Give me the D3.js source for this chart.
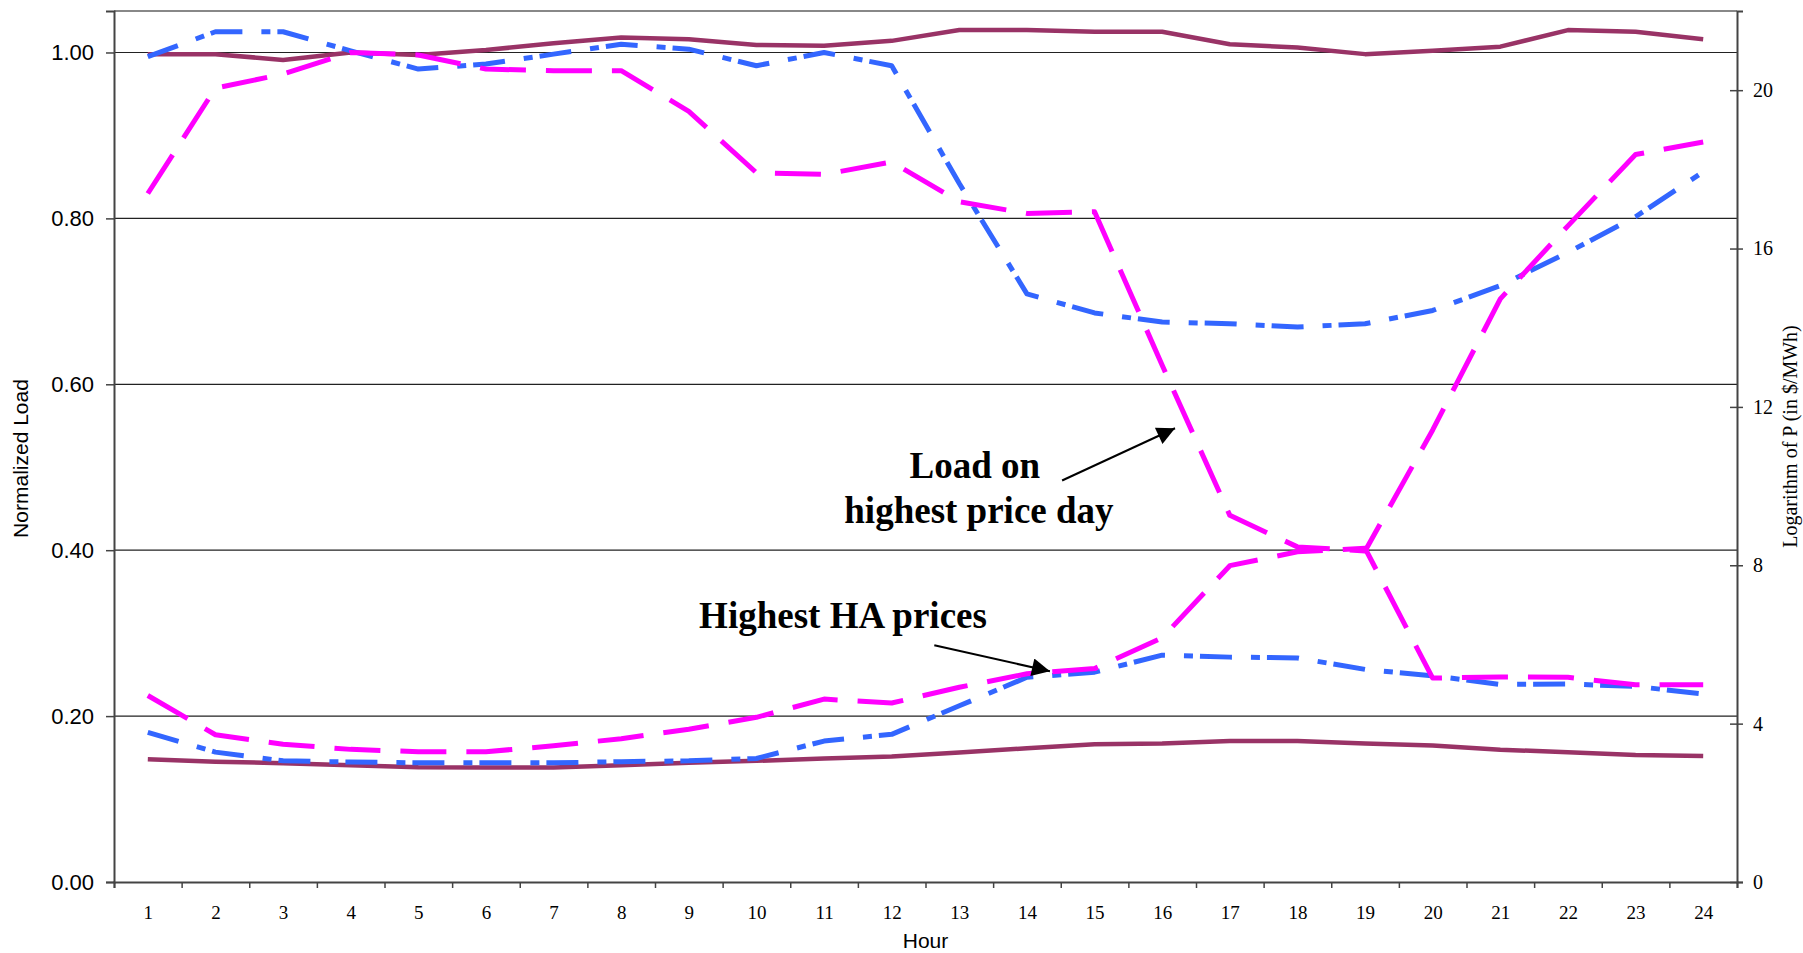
<!DOCTYPE html>
<html>
<head>
<meta charset="utf-8">
<script src="https://cdn.jsdelivr.net/npm/d3@7"></script>
<style>
  body { margin: 0; background: #fff; }
</style>
</head>
<body>
<div id="chart"></div>
<script>
// hours of the day
const hours = [1, 2, 3, 4, 5, 6, 7, 8, 9, 10, 11, 12, 13, 14, 15, 16, 17, 18, 19, 20, 21, 22, 23, 24]

// normalized load (left axis)
const loadSolid = [0.998, 0.998, 0.991, 1.000, 0.997, 1.003, 1.011, 1.018, 1.016, 1.009, 1.008, 1.014,
    1.027, 1.027, 1.025, 1.025, 1.010, 1.006, 0.998, 1.002, 1.007, 1.027, 1.025, 1.016]
const loadDashDot = [0.995, 1.025, 1.025, 1.002, 0.980, 0.986, 0.998, 1.010, 1.004, 0.984, 1.000, 0.984,
    0.842, 0.709, 0.686, 0.675, 0.673, 0.669, 0.673, 0.689, 0.719, 0.759, 0.802, 0.856]
const loadDashed = [0.830, 0.957, 0.974, 1.000, 0.997, 0.980, 0.978, 0.978, 0.929, 0.855, 0.853, 0.868,
    0.820, 0.806, 0.808, 0.623, 0.442, 0.404, 0.399, 0.545, 0.703, 0.791, 0.877, 0.892]

// logarithm of price (right axis)
const priceSolid = [3.10, 3.04, 3.00, 2.95, 2.90, 2.89, 2.89, 2.95, 3.01, 3.06, 3.12, 3.17,
    3.27, 3.38, 3.48, 3.50, 3.56, 3.56, 3.50, 3.45, 3.34, 3.28, 3.21, 3.18]
const priceDashDot = [3.78, 3.28, 3.06, 3.03, 3.01, 3.01, 3.01, 3.04, 3.06, 3.12, 3.56, 3.73,
    4.45, 5.17, 5.30, 5.73, 5.68, 5.66, 5.37, 5.21, 4.99, 5.00, 4.94, 4.75]
const priceDashed = [4.71, 3.72, 3.48, 3.35, 3.29, 3.29, 3.44, 3.62, 3.86, 4.16, 4.62, 4.52,
    4.92, 5.26, 5.39, 6.17, 7.99, 8.34, 8.43, 5.15, 5.18, 5.17, 4.98, 4.98]

const leftTicks = [0, 0.2, 0.4, 0.6, 0.8, 1.0]
const rightTicks = [0, 4, 8, 12, 16, 20]

const width = 1803
const height = 953
const margin = {top: 11, right: 66, bottom: 71, left: 114}

const svg = d3.select('#chart')
    .append('svg')
    .attr('width', width)
    .attr('height', height)
    .style('display', 'block')

const plotW = width - margin.left - margin.right
const plotH = height - margin.top - margin.bottom

const g = svg.append('g')
    .attr('transform', `translate(${margin.left},${margin.top})`)

const x = d3.scaleLinear().domain([0.5, 24.5]).range([0, plotW])
const yLeft = d3.scaleLinear().domain([0, 1.05]).range([plotH, 0])
const yRight = d3.scaleLinear().domain([0, 22]).range([plotH, 0])

// gridlines
g.selectAll('.grid')
    .data(leftTicks.filter(d => d > 0))
    .enter().append('line')
    .attr('class', 'grid')
    .attr('x1', 0)
    .attr('x2', plotW)
    .attr('y1', d => yLeft(d))
    .attr('y2', d => yLeft(d))
    .attr('stroke', '#222')
    .attr('stroke-width', 1.2)

// top border
g.append('line')
    .attr('x1', 0).attr('x2', plotW)
    .attr('y1', 0).attr('y2', 0)
    .attr('stroke', '#888')
    .attr('stroke-width', 2)

// left axis
const leftAxis = g.append('g')
    .call(d3.axisLeft(yLeft).tickValues(leftTicks).tickFormat(d3.format('.2f')).tickSize(8).tickPadding(12))
leftAxis.select('.domain').attr('stroke', '#444').attr('stroke-width', 2)
leftAxis.selectAll('.tick line').attr('stroke', '#444').attr('stroke-width', 1.5)
leftAxis.selectAll('.tick text')
    .attr('font-family', '"Liberation Sans", Arial, sans-serif')
    .attr('font-size', 22)
    .attr('fill', '#000')

// right axis
const rightAxis = g.append('g')
    .attr('transform', `translate(${plotW},0)`)
    .call(d3.axisRight(yRight).tickValues(rightTicks).tickSize(6).tickPadding(10))
rightAxis.select('.domain').attr('stroke', '#444').attr('stroke-width', 2)
rightAxis.selectAll('.tick line').attr('x1', -7).attr('stroke', '#444').attr('stroke-width', 1.5)
rightAxis.selectAll('.tick text')
    .attr('font-family', '"Liberation Serif", "Times New Roman", serif')
    .attr('font-size', 20)
    .attr('fill', '#000')

// bottom axis: ticks between hours, labels at hour centres
const tickPos = hours.map(h => h - 0.5).concat([hours[hours.length - 1] + 0.5])
const bottomTicks = g.append('g')
    .attr('transform', `translate(0,${plotH})`)
    .call(d3.axisBottom(x).tickValues(tickPos).tickFormat('').tickSize(6))
bottomTicks.select('.domain').attr('stroke', '#444').attr('stroke-width', 2)
bottomTicks.selectAll('.tick line').attr('stroke', '#444').attr('stroke-width', 1.5)

const bottomLabels = g.append('g')
    .attr('transform', `translate(0,${plotH})`)
    .call(d3.axisBottom(x).tickValues(hours).tickSize(0).tickPadding(24))
bottomLabels.select('.domain').remove()
bottomLabels.selectAll('.tick text')
    .attr('font-family', '"Liberation Serif", "Times New Roman", serif')
    .attr('font-size', 19)
    .attr('fill', '#000')

// axis titles
svg.append('text')
    .attr('transform', `translate(28,${margin.top + plotH / 2 + 12}) rotate(-90)`)
    .attr('text-anchor', 'middle')
    .attr('font-family', '"Liberation Sans", Arial, sans-serif')
    .attr('font-size', 21)
    .text('Normalized Load')

svg.append('text')
    .attr('x', margin.left + plotW / 2)
    .attr('y', 948)
    .attr('text-anchor', 'middle')
    .attr('font-family', '"Liberation Sans", Arial, sans-serif')
    .attr('font-size', 21)
    .text('Hour')

svg.append('text')
    .attr('transform', `translate(1797,${margin.top + plotH / 2 - 10}) rotate(-90)`)
    .attr('text-anchor', 'middle')
    .attr('font-family', '"Liberation Serif", "Times New Roman", serif')
    .attr('font-size', 20)
    .text('Logarithm of P (in $/MWh)')

// series
const series = [
    {values: loadSolid, scale: yLeft, color: '#993366', dash: null, w: 4.5},
    {values: priceSolid, scale: yRight, color: '#993366', dash: null, w: 4.5},
    {values: loadDashDot, scale: yLeft, color: '#3366FF', dash: '32,19,9,7', w: 5},
    {values: priceDashDot, scale: yRight, color: '#3366FF', dash: '32,19,9,7', w: 5},
    {values: loadDashed, scale: yLeft, color: '#FF00FF', dash: '46,20', w: 5},
    {values: priceDashed, scale: yRight, color: '#FF00FF', dash: '46,20', w: 5},
]

series.forEach(function(s) {
    const line = d3.line()
        .x((d, i) => x(hours[i]))
        .y(d => s.scale(d))
    g.append('path')
        .datum(s.values)
        .attr('d', line)
        .attr('fill', 'none')
        .attr('stroke', s.color)
        .attr('stroke-width', s.w)
        .attr('stroke-linejoin', 'round')
        .attr('stroke-dasharray', s.dash)
})

// annotations
svg.append('defs').append('marker')
    .attr('id', 'arrow')
    .attr('viewBox', '0 0 10 10')
    .attr('refX', 10)
    .attr('refY', 5)
    .attr('markerWidth', 20)
    .attr('markerHeight', 18)
    .attr('markerUnits', 'userSpaceOnUse')
    .attr('orient', 'auto')
    .append('path')
    .attr('d', 'M0,0 L10,5 L0,10 Z')
    .attr('fill', '#000')

const notes = [
    {text: 'Load on', hour: 13.23, v: 0.487},
    {text: 'highest price day', hour: 13.29, v: 0.4325},
    {text: 'Highest HA prices', hour: 11.28, v: 0.306},
]
const arrows = [
    {h1: 14.52, v1: 0.484, h2: 16.19, v2: 0.547},
    {h1: 12.63, v1: 0.2855, h2: 14.34, v2: 0.254},
]

g.selectAll('.note')
    .data(notes)
    .enter().append('text')
    .attr('class', 'note')
    .attr('x', d => x(d.hour))
    .attr('y', d => yLeft(d.v))
    .attr('text-anchor', 'middle')
    .attr('font-family', '"Liberation Serif", "Times New Roman", serif')
    .attr('font-weight', 'bold')
    .attr('font-size', 37)
    .text(d => d.text)

g.selectAll('.arrow')
    .data(arrows)
    .enter().append('line')
    .attr('class', 'arrow')
    .attr('x1', d => x(d.h1))
    .attr('y1', d => yLeft(d.v1))
    .attr('x2', d => x(d.h2))
    .attr('y2', d => yLeft(d.v2))
    .attr('stroke', '#000')
    .attr('stroke-width', 2)
    .attr('marker-end', 'url(#arrow)')
</script>
</body>
</html>
